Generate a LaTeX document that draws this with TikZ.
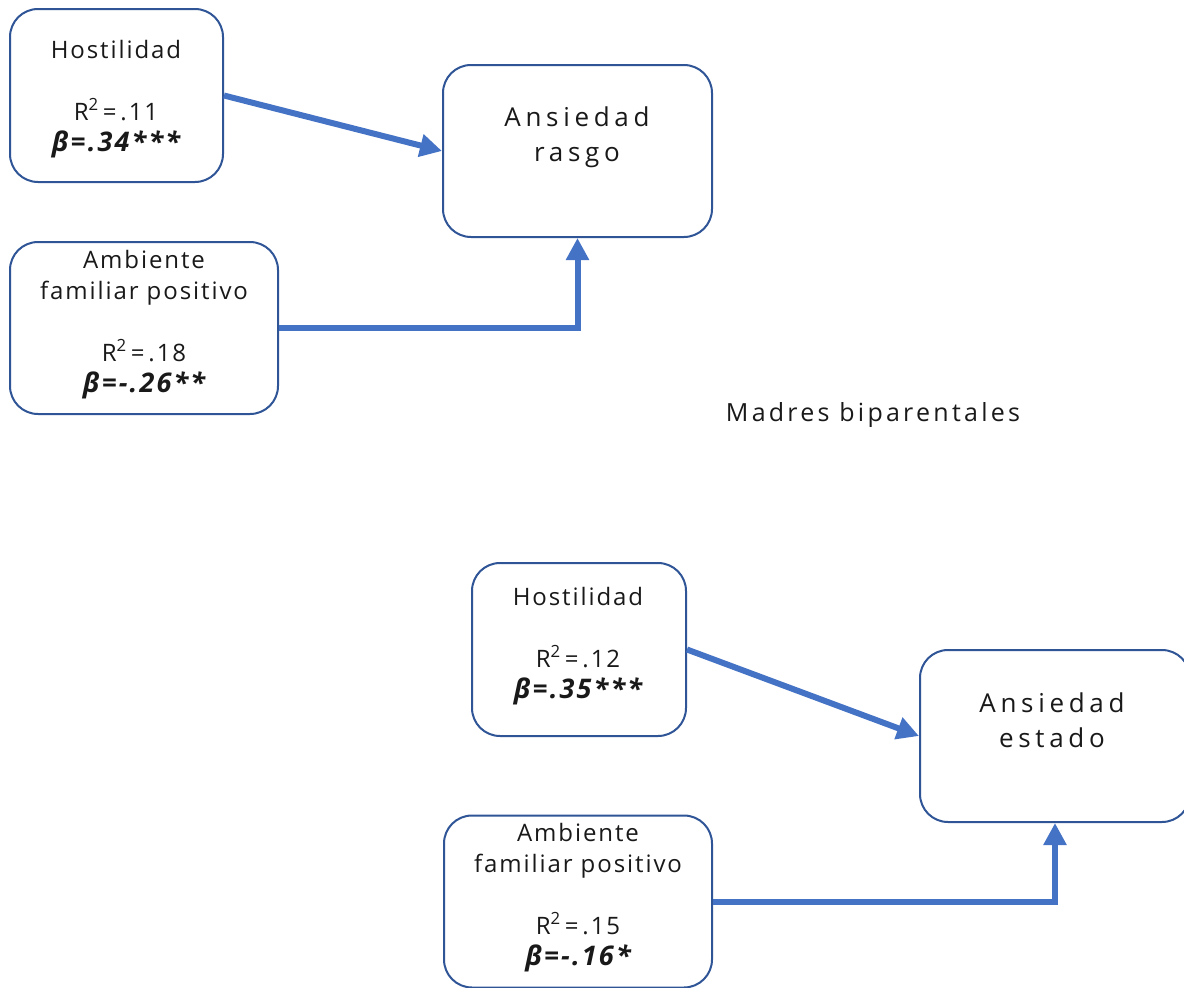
\documentclass[tikz,border=0pt]{standalone}
\usepackage{fontspec}
\setmainfont{Open Sans}
\usetikzlibrary{arrows.meta}
\definecolor{boxblue}{HTML}{2F5597}
\definecolor{arrblue}{HTML}{4472C4}
\tikzset{
  varbox/.style={draw=boxblue, line width=2pt, rounded corners=28pt, fill=white, inner sep=0pt},
  lbl/.style={align=center, font=\fontsize{24}{31}\selectfont\addfontfeatures{LetterSpace=8}, text=black!90, inner sep=0pt},
  bigl/.style={align=center, font=\fontsize{26}{35}\selectfont\addfontfeatures{LetterSpace=18}, text=black!90, inner sep=0pt},
  conn/.style={draw=arrblue, line width=6pt, -{Triangle[length=22pt,width=22pt]}},
}
\newcommand{\betal}[1]{{\fontsize{27}{31}\selectfont\itshape\bfseries\addfontfeatures{LetterSpace=8}#1}}
\newcommand{\rsq}[1]{R\textsuperscript{2}\,=\,#1}
\begin{document}
\begin{tikzpicture}[x=1pt,y=-1pt]
\useasboundingbox (0,0) rectangle (1184,988);
% boxes
\node[varbox, minimum width=213pt, minimum height=173pt] (h1) at (116.5,95.5) {};
\node[varbox, minimum width=269pt, minimum height=172pt] (a1) at (577.5,151) {};
\node[varbox, minimum width=268pt, minimum height=172pt] (am1) at (144,328) {};
\node[varbox, minimum width=214pt, minimum height=173pt] (h2) at (579,649.5) {};
\node[varbox, minimum width=270pt, minimum height=172pt] (e2) at (1055,736) {};
\node[varbox, minimum width=268pt, minimum height=172pt] (am2) at (578,901.5) {};
% labels (anchor base = baseline of last line)
\node[lbl, anchor=base] (h1t) at (116,151) {Hostilidad\\[31pt]\rsq{.11}\\\betal{β=.34***}};
\node[bigl, anchor=base] (a1t) at (577,161) {Ansiedad\\rasgo};
\node[lbl, anchor=base] (am1t) at (144,392) {Ambiente\\familiar positivo\\[31pt]\rsq{.18}\\\betal{β=-.26**}};
\node[lbl, anchor=base, font=\fontsize{25}{31}\selectfont\addfontfeatures{LetterSpace=13}] (mb) at (873,421) {Madres biparentales};
\node[lbl, anchor=base] (h2t) at (578,698) {Hostilidad\\[31pt]\rsq{.12}\\\betal{β=.35***}};
\node[bigl, anchor=base] (e2t) at (1052,747) {Ansiedad\\estado};
\node[lbl, anchor=base] (am2t) at (578,965) {Ambiente\\familiar positivo\\[31pt]\rsq{.15}\\\betal{β=-.16*}};
% connectors
\draw[conn] (h1.east) -- (a1.west);
\draw[conn] (am1.east) -| (a1.south);
\draw[conn] (h2.east) -- (e2.west);
\draw[conn] (am2.east) -| (e2.south);
\end{tikzpicture}
\end{document}
